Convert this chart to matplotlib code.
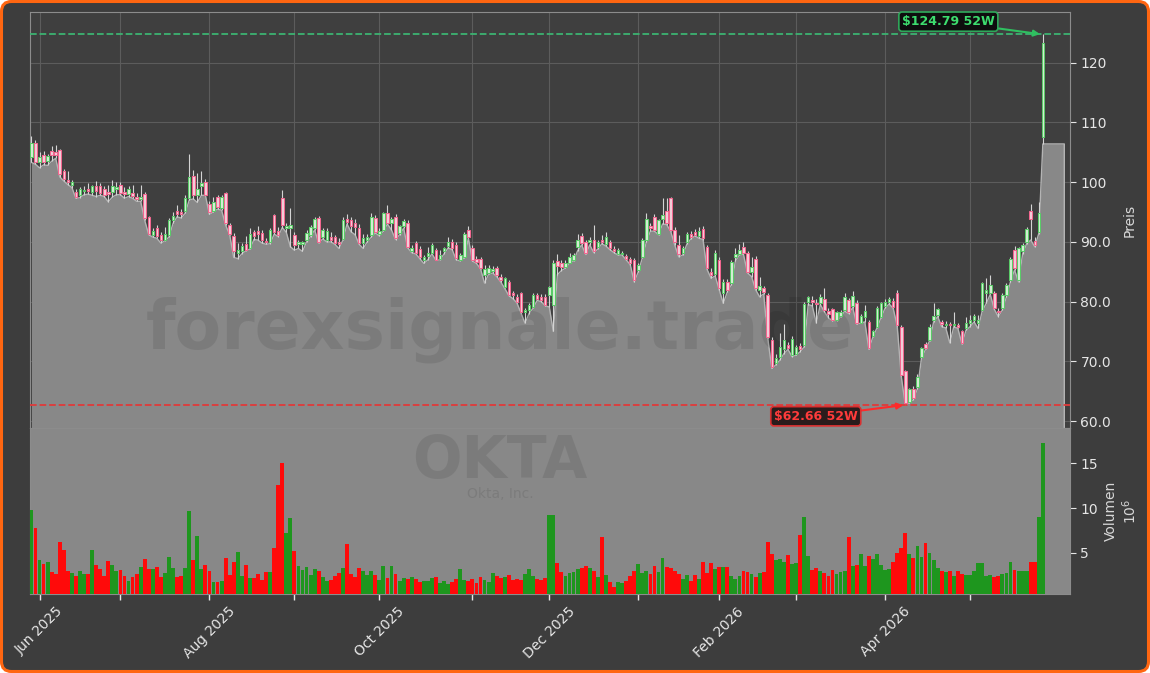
import matplotlib
matplotlib.use('Agg')
import matplotlib.pyplot as plt
import matplotlib.patches as mpatches
from matplotlib.ticker import FuncFormatter
import numpy as np
import pandas as pd

ticker = 'OKTA'
company = 'Okta, Inc.'
watermark = 'forexsignale.trade'
high52 = 124.79
low52 = 62.66

start, end = '2025-05-29', '2026-05-28'
holidays = ['2025-06-19', '2025-07-04', '2025-09-01', '2025-11-27', '2025-12-25',
            '2026-01-01', '2026-01-19', '2026-02-16', '2026-04-03', '2026-05-25']

# daily candles
opens = [104.2,106.5,103.4,104.6,103.5,105.2,105.0,105.4,101.8,100.4,
         99.5,98.4,97.9,98.5,98.9,98.3,99.3,99.3,98.9,98.4,
         98.3,98.8,99.6,98.4,98.0,98.2,97.5,97.1,98.0,94.2,
         91.2,92.3,91.2,90.3,91.1,93.6,95.2,95.0,95.2,97.4,
         101.1,97.9,99.3,100.1,96.3,95.2,97.6,95.6,98.2,92.8,
         91.0,88.2,88.4,89.6,89.0,91.6,91.8,91.5,90.2,89.9,
         94.5,91.8,97.3,92.4,92.3,91.2,89.6,89.6,90.3,91.2,
         92.3,94.0,90.8,90.4,90.8,90.8,90.0,90.5,93.9,93.6,
         93.2,92.3,89.8,90.3,91.2,94.0,91.4,92.0,94.9,93.2,
         94.2,91.5,92.7,93.2,88.5,89.8,88.8,87.0,87.6,88.2,
         88.6,87.2,88.4,89.3,90.0,89.5,87.0,87.5,92.0,88.9,
         87.2,87.1,84.5,84.8,85.2,85.6,84.2,82.5,83.3,81.4,
         80.8,81.4,78.2,78.6,79.1,81.1,80.8,80.8,81.1,79.5,
         86.8,86.4,85.8,86.5,87.0,89.2,91.0,90.0,89.9,90.3,
         89.1,90.4,89.6,90.0,88.8,88.0,87.9,87.6,87.2,87.0,
         85.3,87.5,90.3,92.6,94.2,91.4,93.8,95.1,97.3,92.0,
         89.5,88.1,89.9,91.4,91.7,91.0,92.1,89.2,85.0,84.7,
         87.0,81.4,83.3,83.1,87.4,88.0,89.2,88.1,85.0,87.2,
         82.0,82.3,81.1,73.6,69.8,70.8,72.0,72.7,71.1,71.3,
         72.5,72.7,80.0,80.3,79.8,79.8,80.5,78.4,78.7,77.0,
         77.6,78.6,80.3,79.3,79.8,76.5,77.5,76.6,74.3,75.8,
         77.5,79.3,79.9,80.1,81.4,75.8,68.3,63.2,65.4,65.7,
         70.8,72.9,73.6,76.9,77.8,76.6,76.0,76.3,76.0,76.1,
         75.0,75.5,76.4,77.0,76.5,78.6,81.5,81.4,81.5,78.5,
         78.9,81.1,83.6,88.6,83.6,88.4,90.0,95.1,90.2,91.7,
         107.6]
highs = [107.7,107.0,105.0,105.3,104.8,106.0,106.2,105.6,102.2,101.8,
         100.4,98.9,99.2,99.3,99.8,99.6,100.2,99.8,99.3,99.5,
         100.3,100.0,100.0,99.2,99.4,99.5,98.2,99.5,98.3,94.4,
         92.4,92.8,91.7,92.5,94.0,95.0,96.2,95.5,97.8,104.8,
         102.0,101.5,101.8,100.6,96.8,97.6,97.9,97.9,98.4,93.1,
         91.5,89.8,89.8,91.0,92.3,92.0,92.6,92.0,90.6,92.3,
         94.7,92.5,98.7,93.2,95.6,91.6,90.3,90.2,92.0,92.8,
         94.2,94.4,92.3,92.3,91.6,91.2,90.6,94.2,94.6,94.2,
         93.9,93.0,91.4,91.4,94.8,94.5,92.4,95.0,96.2,94.2,
         94.6,92.9,93.9,93.6,89.4,90.2,89.3,87.8,89.2,89.8,
         89.0,88.6,89.2,90.9,90.5,90.0,88.2,91.6,92.6,89.4,
         87.6,87.5,86.1,86.2,85.9,86.0,84.6,84.2,83.6,81.8,
         81.2,81.6,79.0,79.7,81.4,81.5,81.2,81.3,82.6,87.0,
         88.0,87.0,87.0,88.1,88.2,91.4,91.5,90.4,90.8,92.8,
         90.4,91.2,91.7,90.4,89.3,88.9,88.4,88.0,87.5,87.3,
         86.4,90.6,94.8,93.2,94.6,93.9,97.3,97.3,97.5,92.5,
         91.2,89.3,91.7,91.8,92.2,92.5,92.6,89.5,85.6,88.6,
         87.5,83.8,83.8,87.0,89.0,89.6,89.9,88.5,87.5,87.6,
         84.2,82.6,81.4,74.0,71.3,74.7,76.3,73.2,74.2,72.8,
         73.0,80.0,81.0,81.0,80.5,81.3,82.3,78.9,79.0,78.5,
         78.6,81.5,80.6,81.8,80.2,78.0,79.4,77.0,75.3,79.2,
         80.0,80.5,80.8,80.6,82.0,76.0,68.6,65.6,65.8,67.8,
         72.4,73.3,76.2,79.7,79.0,76.9,76.8,76.6,78.3,76.4,
         75.3,77.5,77.8,78.0,77.8,83.3,83.9,84.5,81.8,78.9,
         81.4,83.1,87.4,89.3,89.2,89.8,92.5,96.4,90.8,96.6,
         124.79]
lows = [103.3,103.0,102.4,102.9,102.8,103.5,104.0,100.9,100.2,99.6,
        99.1,97.3,97.4,97.9,98.0,97.8,97.6,97.8,97.6,96.7,
        97.5,97.9,97.9,97.3,97.6,97.3,96.8,96.8,93.6,91.2,
        90.8,90.6,89.8,90.2,90.8,93.1,94.2,94.0,94.8,97.0,
        97.2,96.6,97.8,97.8,94.6,95.0,95.5,95.3,92.8,91.2,
        87.4,87.2,88.0,88.5,88.8,90.4,90.3,89.8,89.6,89.7,
        91.3,90.9,92.4,91.6,89.2,88.6,88.9,88.4,90.0,90.9,
        92.0,89.8,90.5,90.0,90.0,89.6,88.9,90.3,93.0,91.7,
        91.2,89.6,88.9,90.0,90.8,91.5,91.0,91.8,93.0,92.0,
        90.4,91.2,92.3,89.0,88.2,88.0,87.2,86.4,87.0,88.0,
        86.9,87.0,88.0,89.0,88.7,87.0,86.8,87.3,90.6,86.8,
        86.4,85.5,83.1,84.6,84.8,84.2,83.3,82.2,81.0,80.5,
        79.8,78.1,76.4,78.0,78.9,80.2,80.0,79.3,79.1,75.0,
        84.5,85.2,85.6,86.4,86.8,88.5,89.5,87.9,89.5,88.2,
        88.8,89.7,89.3,88.7,88.2,87.8,87.8,87.0,86.2,83.3,
        85.0,87.3,90.0,91.8,91.8,91.2,93.0,92.9,91.8,89.5,
        87.5,87.8,89.6,90.5,91.0,90.6,90.4,85.4,83.9,84.3,
        82.0,79.7,81.6,82.8,86.8,87.8,87.9,84.8,84.2,82.0,
        80.8,81.3,73.9,68.8,69.4,70.2,71.3,72.0,70.8,71.0,
        71.6,72.4,79.5,79.3,76.4,79.5,78.3,77.3,76.8,76.8,
        77.4,78.4,78.0,79.0,76.2,76.4,76.6,72.0,74.1,75.6,
        77.3,78.9,79.6,78.9,75.9,67.5,62.66,63.0,63.6,65.4,
        70.5,72.0,73.4,76.6,77.5,75.8,75.6,73.1,75.8,75.5,
        72.9,75.2,75.8,76.6,75.5,78.4,79.7,81.2,78.7,77.5,
        78.6,80.8,83.3,85.3,83.3,88.0,89.7,90.3,89.2,91.4,
        106.4]
closes = [106.5,103.4,104.2,103.3,104.4,104.6,104.6,101.3,100.6,100.0,
          100.0,97.6,98.8,98.7,98.5,99.3,98.6,98.2,97.9,98.0,
          99.4,99.2,98.2,98.0,98.9,97.7,97.1,97.5,94.0,91.4,
          91.8,91.0,90.3,91.4,93.6,94.4,94.6,94.7,97.4,100.9,
          97.8,98.9,99.9,97.9,95.0,96.6,95.8,97.6,93.2,91.4,
          88.4,88.6,89.3,88.7,91.4,91.0,91.3,90.4,89.9,92.0,
          91.6,91.2,92.8,92.6,92.9,89.5,89.9,89.9,91.5,92.5,
          93.8,90.0,92.0,91.8,90.4,89.8,89.6,93.6,93.4,92.6,
          92.5,89.8,90.6,90.9,94.2,91.7,91.8,94.8,93.2,93.8,
          90.6,92.7,93.5,89.2,88.9,88.2,87.5,87.4,88.2,89.5,
          87.0,87.8,89.0,89.9,88.9,87.3,87.8,91.4,90.8,87.0,
          86.7,85.7,85.5,85.6,85.4,84.5,83.6,83.9,81.1,81.1,
          80.0,78.3,78.6,79.4,81.1,80.5,80.3,79.5,82.4,86.5,
          86.0,85.8,86.4,87.5,87.8,90.3,89.8,88.1,90.3,88.4,
          90.0,90.0,90.9,88.9,88.4,88.6,88.2,87.2,86.4,83.6,
          86.1,90.3,93.8,92.3,92.0,93.6,94.5,93.1,92.0,90.0,
          88.0,88.9,91.4,90.8,91.2,91.8,90.6,85.6,84.5,88.1,
          82.2,83.3,81.9,86.7,87.9,88.6,88.1,85.0,85.8,82.2,
          82.6,81.6,74.1,69.1,70.6,72.4,73.5,72.3,73.8,72.4,
          72.0,79.6,80.8,79.9,79.6,80.7,78.6,78.0,77.0,78.3,
          78.3,80.7,78.3,80.9,76.4,77.6,78.5,72.2,75.0,78.9,
          79.8,80.0,80.5,79.1,76.1,67.7,63.0,65.3,63.8,67.4,
          72.2,72.2,75.8,77.6,78.7,76.2,76.2,76.0,76.3,75.7,
          73.0,76.5,77.0,77.6,77.0,83.1,82.0,82.8,78.9,78.2,
          81.1,82.8,87.1,85.6,88.9,89.5,92.1,93.8,89.5,94.8,
          123.3]
# volume in millions
volume = [9.8,7.8,4.2,3.7,3.95,2.8,2.65,6.2,5.3,3.0,
          2.7,2.4,2.95,2.65,2.6,5.3,3.6,3.2,2.4,4.1,
          3.6,2.95,3.05,2.4,1.8,2.3,2.6,3.4,4.3,3.2,
          3.2,3.4,2.3,2.7,4.55,3.3,2.3,2.4,3.3,9.7,
          4.2,6.9,3.2,3.65,2.95,1.7,1.7,1.8,4.4,2.5,
          3.95,5.1,2.4,3.65,2.2,2.2,2.6,1.9,2.8,2.8,
          5.5,12.6,15.0,7.2,8.9,5.2,3.5,3.1,3.4,2.5,
          3.2,2.95,2.3,1.8,1.9,2.4,2.7,3.3,6.0,2.6,
          2.3,3.3,2.95,2.5,2.95,2.5,1.9,3.5,2.2,3.5,
          2.6,1.8,2.2,2.0,2.3,2.0,1.7,1.8,1.8,2.2,
          2.3,1.6,1.8,1.5,1.7,2.0,3.2,1.9,1.8,2.0,
          1.6,2.3,1.9,1.7,2.7,2.4,2.2,2.3,2.5,1.9,
          2.0,1.9,2.6,3.2,2.4,2.1,1.9,2.2,9.2,9.2,
          3.8,2.8,2.4,2.7,2.8,3.2,3.3,3.5,3.3,3.0,
          2.3,6.7,2.5,1.7,1.2,1.7,1.6,1.8,2.4,3.0,
          3.7,2.7,3.0,2.6,3.5,2.8,4.4,3.4,3.3,3.0,
          2.6,2.1,2.5,1.8,2.5,2.0,3.9,2.7,3.8,3.2,
          3.4,3.4,3.4,2.4,2.0,2.4,2.9,2.8,2.6,2.3,
          2.7,2.8,6.2,4.8,4.2,4.3,3.9,4.7,3.7,3.8,
          7.0,9.0,4.6,3.1,3.3,3.0,2.7,2.4,3.1,2.6,
          2.8,3.0,6.7,3.5,3.6,4.8,3.5,4.6,4.3,4.9,
          3.6,3.1,3.2,4.0,5.0,5.5,7.2,4.9,4.4,5.7,
          4.5,6.1,5.0,4.2,3.3,3.0,2.8,3.0,2.4,3.0,
          2.6,2.5,2.5,3.0,3.8,3.8,2.4,2.5,2.3,2.4,
          2.6,2.7,4.0,3.1,3.0,3.0,3.0,4.0,3.9,9.0,
          17.3]

# colours
bg = '#3d3d3d'
panel = '#3f3f3f'
fillc = '#888888'
up_edge, up_face = '#5acb68', '#d6eed6'
dn_edge, dn_face = '#f2668f', '#f3d0da'
vol_up, vol_dn = '#1e961e', '#ff0a0a'
txt = '#e6e6e6'

dates = pd.bdate_range(start, end)
dates = dates[~dates.isin(pd.to_datetime(holidays))]
o = np.array(opens); h = np.array(highs); l = np.array(lows); c = np.array(closes)
vol = np.array(volume)
n = len(c)
x = np.arange(n)
up = c >= o

fig = plt.figure(figsize=(11.5, 6.73), dpi=100, facecolor='white')
frame = mpatches.FancyBboxPatch((0.015, 0.015), 11.47, 6.70,
                                boxstyle='round,pad=0,rounding_size=0.1',
                                transform=fig.dpi_scale_trans,
                                fc=bg, ec='#ff6611', lw=2.2, zorder=0)
fig.add_artist(frame)

ax = fig.add_axes([0.0261, 0.364, 0.9043, 0.6182])
ax2 = fig.add_axes([0.0261, 0.1174, 0.9043, 0.2466], sharex=ax)
ax.set_facecolor(panel)
ax2.set_facecolor(fillc)

# area under the lows, held flat a few bars past the last candle
pad = 5.3
xf = np.append(x, n - 1 + pad)
lf = np.append(l, l[-1])
ax.fill_between(xf, lf, 0, color=fillc, zorder=2, lw=0)
ax.plot(np.append(xf, xf[-1]), np.append(lf, 0), color='#b4b4b4', lw=1.0, zorder=2.2)

ax.text(0.452, 0.236, watermark, transform=ax.transAxes, ha='center', va='center',
        fontsize=49, fontweight='bold', color='black', alpha=0.09, zorder=2.5)

# candles
ax.vlines(x, l, h, color='#d4d4d4', lw=0.8, zorder=3)
body_lo = np.minimum(o, c)
body_h = np.maximum(np.abs(c - o), 0.15)
ax.bar(x, body_h, bottom=body_lo, width=0.62,
       color=np.where(up, up_face, dn_face),
       edgecolor=np.where(up, up_edge, dn_edge), linewidth=0.75, zorder=4)

# 52 week levels
ax.axhline(high52, color='#3cb371', ls='--', lw=1.3, zorder=3.5)
ax.axhline(low52, color='#e03a3a', ls='--', lw=1.3, zorder=3.5)
ih = int(np.argmax(h)); il = int(np.argmin(l))
ax.annotate(f'${high52:.2f} 52W', xy=(ih - 0.7, high52), xytext=(-66, 9),
            textcoords='offset points', ha='center', va='center',
            fontsize=9, fontweight='bold', color='#3ddc6e',
            bbox=dict(boxstyle='round,pad=0.25', fc='#0e0e0e', ec='#2fa85a', lw=1.2),
            arrowprops=dict(arrowstyle='-|>', color='#2fc060', lw=1.5, shrinkA=0, shrinkB=0),
            zorder=6)
ax.annotate(f'${low52:.2f} 52W', xy=(il - 0.5, low52), xytext=(-63, -8),
            textcoords='offset points', ha='center', va='center',
            fontsize=9, fontweight='bold', color='#ff3b3b',
            bbox=dict(boxstyle='round,pad=0.25', fc='#2a1c1c', ec='#d83030', lw=1.2),
            arrowprops=dict(arrowstyle='-|>', color='#ff2a2a', lw=1.5, shrinkA=0, shrinkB=0),
            zorder=6)

# volume
ax2.bar(x, vol, width=0.95, color=np.where(up, vol_up, vol_dn), lw=0, zorder=3)
ax2.text(0.452, 0.80, ticker, transform=ax2.transAxes, ha='center', va='center',
         fontsize=42, fontweight='bold', color='black', alpha=0.09, zorder=2)
ax2.text(0.452, 0.60, company, transform=ax2.transAxes, ha='center', va='center',
         fontsize=10, color='black', alpha=0.09, zorder=2)

# axes
ax.set_xlim(-0.35, 256.7)
ax.set_ylim(58.83, 128.5)
ax2.set_ylim(0.37, 18.96)

months = dates.to_period('M')
tick_idx = [i for i in range(1, n) if months[i] != months[i - 1]]
tick_lab = [dates[i].strftime('%b %Y') if dates[i].month % 2 == 0 else '' for i in tick_idx]
ax2.set_xticks(tick_idx)
ax2.set_xticklabels(tick_lab, rotation=45, fontsize=10, color=txt)
ax.tick_params(axis='x', length=0, labelbottom=False)
ax2.tick_params(axis='x', colors=txt, length=4, width=1)

ax.set_yticks(np.arange(60, 121, 10))
ax.yaxis.set_major_formatter(FuncFormatter(lambda v, p: f'{v:.1f}' if v < 100 else f'{v:.0f}'))
ax2.set_yticks([5, 10, 15])
for a in (ax, ax2):
    a.yaxis.tick_right()
    a.yaxis.set_label_position('right')
    a.tick_params(axis='y', colors=txt, labelsize=10, length=4)
    for s in a.spines.values():
        s.set_color('#8c8c8c')
ax.set_ylabel('Preis', color='#d8d8d8', fontsize=10, labelpad=8)
ax2.set_ylabel('Volumen\n$10^6$', color='#d8d8d8', fontsize=10, labelpad=4)

ax.set_axisbelow(True)
ax.grid(True, color='#5c5c5c', lw=0.8)

fig.savefig('out.png', dpi=100, facecolor=fig.get_facecolor())
